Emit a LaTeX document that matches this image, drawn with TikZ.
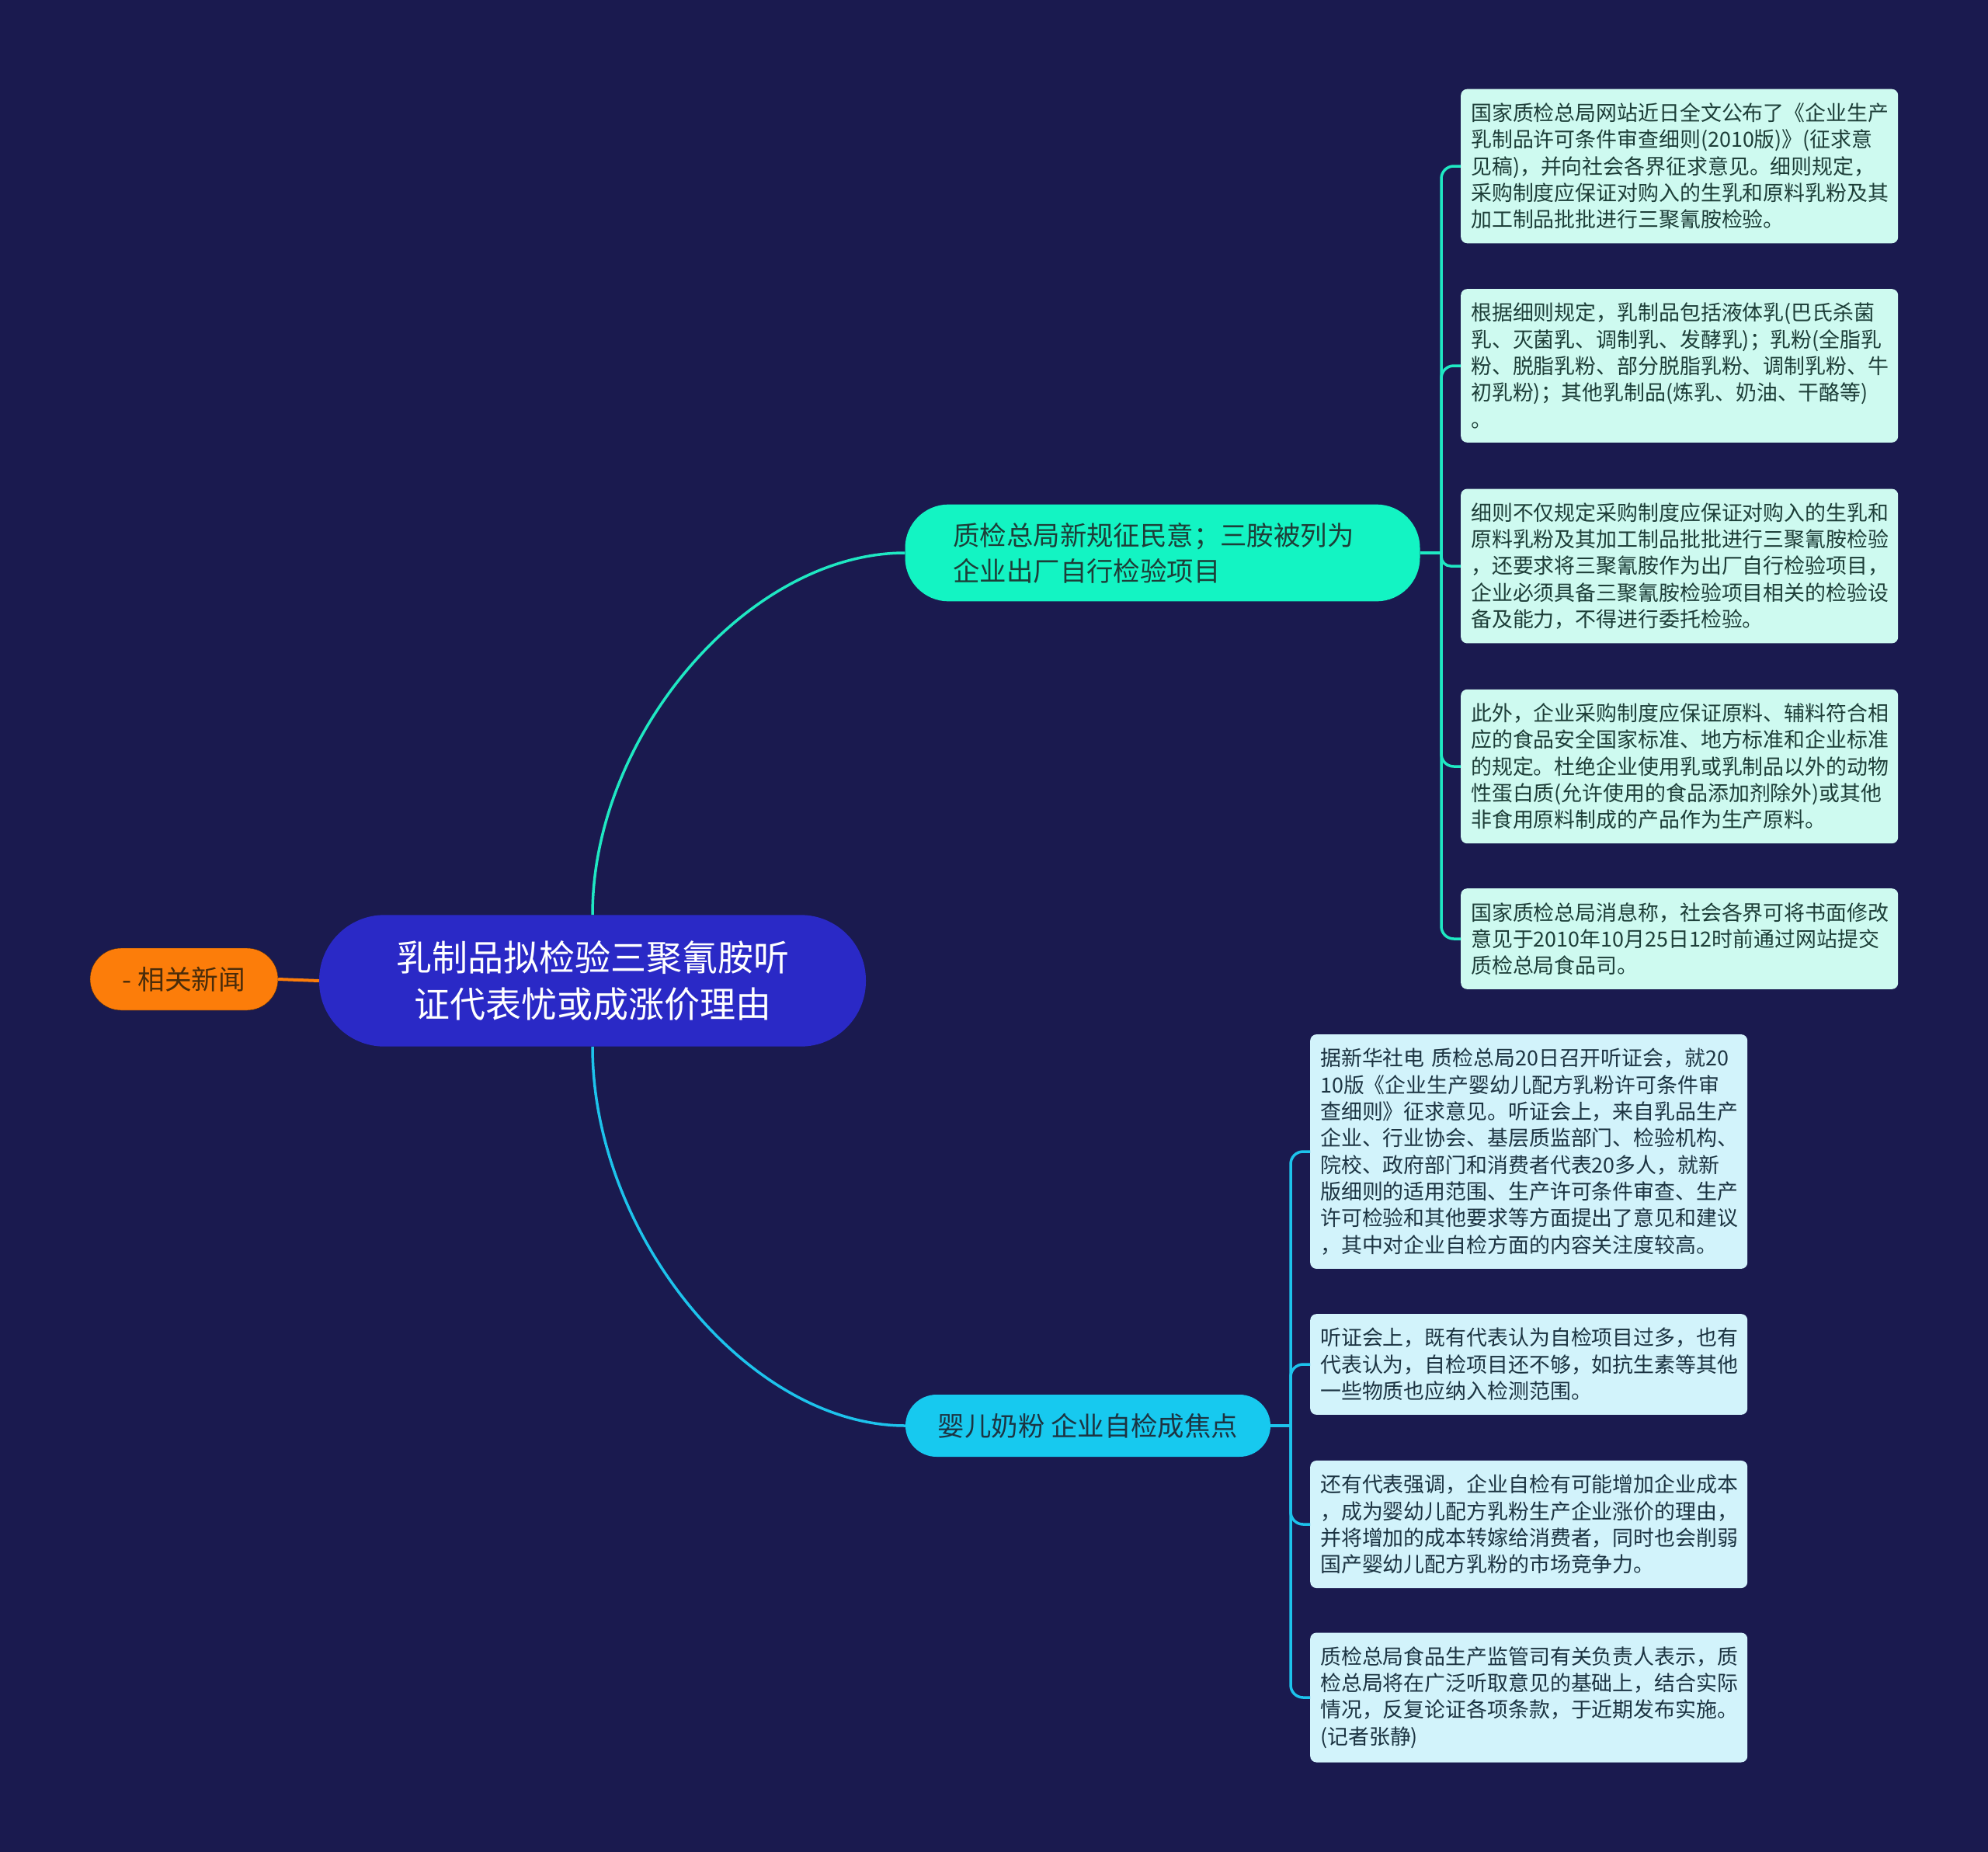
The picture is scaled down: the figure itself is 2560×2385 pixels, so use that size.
\documentclass[tikz,border=0pt]{standalone}
\usepackage{fontspec}
\setmainfont{Noto Sans CJK SC}
\usepackage{xcolor}
\definecolor{bgnavy}{HTML}{1A1A4F}
\definecolor{rootblue}{HTML}{2A29C6}
\definecolor{newsorange}{HTML}{FC7D0A}
\definecolor{newstext}{HTML}{4A2C0A}
\definecolor{mintbranch}{HTML}{13F4C3}
\definecolor{cyanbranch}{HTML}{17C9EF}
\definecolor{mintleaf}{HTML}{CEFAF0}
\definecolor{cyanleaf}{HTML}{D2F3FB}
\definecolor{mintline}{HTML}{1FE8C3}
\definecolor{cyanline}{HTML}{1DC3EC}
\definecolor{darktext}{HTML}{1D3E38}
\definecolor{slatetext}{HTML}{1C3442}

\begin{document}
\begin{tikzpicture}[x=1pt,y=-1pt,
  leafa/.style={fill=mintleaf,text=darktext,rounded corners=8pt,anchor=west,align=left,
    text width=537pt,inner xsep=13pt,inner ysep=18pt,font=\fontsize{26.9}{34.3}\selectfont},
  leafb/.style={leafa,fill=cyanleaf,text=slatetext},
  linea/.style={draw=mintline,line width=3.5pt},
  lineb/.style={draw=cyanline,line width=3.5pt}]
  % background
  \fill[bgnavy] (0,0) rectangle (2560,2385);
  \useasboundingbox (0,0) rectangle (2560,2385);

  % central topic and side tag
  \node[fill=rootblue,text=white,rounded corners=84pt,align=center,minimum width=704pt,
    inner ysep=33pt,font=\fontsize{46}{60.4}\selectfont] (root) at (763,1263)
    {乳制品拟检验三聚氰胺听\\证代表忧或成涨价理由};
  \node[fill=newsorange,draw=newstext,thin,text=newstext,rounded corners=40pt,minimum width=242pt,
    minimum height=80pt,inner sep=0pt,font=\fontsize{34.7}{40}\selectfont] (news) at (237,1261)
    {- 相关新闻};
  \draw[newsorange,line width=4pt] (news.east) -- (root.west);

  % first branch
  \node[fill=mintbranch,text=darktext,rounded corners=56pt,align=left,text width=539pt,
    inner xsep=62pt,inner ysep=23.5pt,font=\fontsize{34.4}{45.7}\selectfont] (rule) at (1497,712)
    {质检总局新规征民意；三胺被列为\\企业出厂自行检验项目};
  \draw[linea] (root.north) .. controls +(0,-232) and +(-201,0) .. (rule.west);

  \node[leafa] (r1) at (1881,214) {国家质检总局网站近日全文公布了《企业生产\\乳制品许可条件审查细则(2010版)》(征求意\\见稿)，并向社会各界征求意见。细则规定，\\采购制度应保证对购入的生乳和原料乳粉及其\\加工制品批批进行三聚氰胺检验。};
  \node[leafa] (r2) at (1881,471) {根据细则规定，乳制品包括液体乳(巴氏杀菌\\乳、灭菌乳、调制乳、发酵乳)；乳粉(全脂乳\\粉、脱脂乳粉、部分脱脂乳粉、调制乳粉、牛\\初乳粉)；其他乳制品(炼乳、奶油、干酪等)\\。};
  \node[leafa] (r3) at (1881,729) {细则不仅规定采购制度应保证对购入的生乳和\\原料乳粉及其加工制品批批进行三聚氰胺检验\\，还要求将三聚氰胺作为出厂自行检验项目，\\企业必须具备三聚氰胺检验项目相关的检验设\\备及能力，不得进行委托检验。};
  \node[leafa] (r4) at (1881,987) {此外，企业采购制度应保证原料、辅料符合相\\应的食品安全国家标准、地方标准和企业标准\\的规定。杜绝企业使用乳或乳制品以外的动物\\性蛋白质(允许使用的食品添加剂除外)或其他\\非食用原料制成的产品作为生产原料。};
  \node[leafa] (r5) at (1881,1209) {国家质检总局消息称，社会各界可将书面修改\\意见于2010年10月25日12时前通过网站提交\\质检总局食品司。};

  \coordinate (rj) at (1856,712);
  \draw[linea] (rule.east) -- (rj);
  \draw[linea,rounded corners=16pt] (rj) |- (r1.west);
  \draw[linea,rounded corners=16pt] (rj) |- (r2.west);
  \draw[linea,rounded corners=12pt] (rj) |- (r3.west);
  \draw[linea,rounded corners=16pt] (rj) |- (r4.west);
  \draw[linea,rounded corners=16pt] (rj) |- (r5.west);

  % second branch
  \node[fill=cyanbranch,text=slatetext,rounded corners=40pt,minimum width=470pt,minimum height=80pt,
    inner sep=0pt,font=\fontsize{34.4}{40}\selectfont] (infant) at (1401,1836)
    {婴儿奶粉 企业自检成焦点};
  \draw[lineb] (root.south) .. controls +(0,243) and +(-201,0) .. (infant.west);

  \node[leafb] (f1) at (1687,1483) {据新华社电 质检总局20日召开听证会，就20\\10版《企业生产婴幼儿配方乳粉许可条件审\\查细则》征求意见。听证会上，来自乳品生产\\企业、行业协会、基层质监部门、检验机构、\\院校、政府部门和消费者代表20多人，就新\\版细则的适用范围、生产许可条件审查、生产\\许可检验和其他要求等方面提出了意见和建议\\，其中对企业自检方面的内容关注度较高。};
  \node[leafb] (f2) at (1687,1757) {听证会上，既有代表认为自检项目过多，也有\\代表认为，自检项目还不够，如抗生素等其他\\一些物质也应纳入检测范围。};
  \node[leafb] (f3) at (1687,1963) {还有代表强调，企业自检有可能增加企业成本\\，成为婴幼儿配方乳粉生产企业涨价的理由，\\并将增加的成本转嫁给消费者，同时也会削弱\\国产婴幼儿配方乳粉的市场竞争力。};
  \node[leafb] (f4) at (1687,2186) {质检总局食品生产监管司有关负责人表示，质\\检总局将在广泛听取意见的基础上，结合实际\\情况，反复论证各项条款，于近期发布实施。\\(记者张静)};

  \coordinate (fj) at (1662,1836);
  \draw[lineb] (infant.east) -- (fj);
  \draw[lineb,rounded corners=16pt] (fj) |- (f1.west);
  \draw[lineb,rounded corners=16pt] (fj) |- (f2.west);
  \draw[lineb,rounded corners=16pt] (fj) |- (f3.west);
  \draw[lineb,rounded corners=16pt] (fj) |- (f4.west);
\end{tikzpicture}
\end{document}
